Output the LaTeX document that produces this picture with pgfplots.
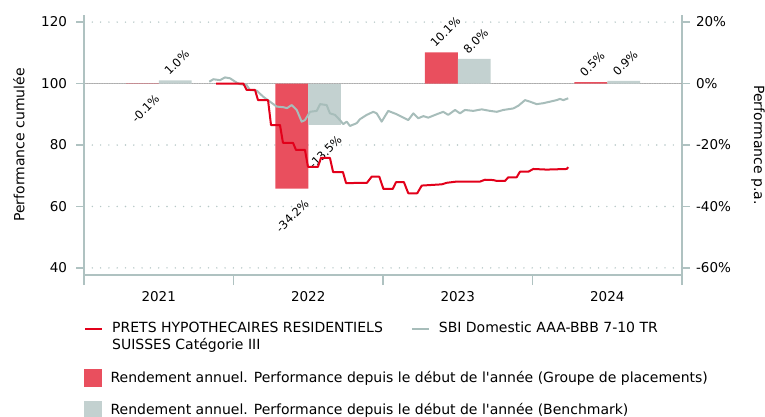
\documentclass[border=0pt]{standalone}
\usepackage{pgfplots}
\pgfplotsset{compat=1.18}
\usepackage{fontspec}
\setmainfont{DejaVu Sans}
\definecolor{redline}{HTML}{E2001A}
\definecolor{redbar}{HTML}{E94F5E}
\definecolor{graybar}{HTML}{C3D1D0}
\definecolor{grayline}{HTML}{A7BDBA}
\definecolor{axiscol}{HTML}{AFC2C1}
\definecolor{gridcol}{HTML}{B5C7C6}
\begin{document}
\begin{tikzpicture}
\path[use as bounding box] (0,0) rectangle (765pt,416pt);
% ---------- bars, right axis ----------
\begin{axis}[
  at={(84pt,141pt)}, anchor=south west,
  scale only axis, width=598pt, height=260pt,
  xmin=0, xmax=4, ymin=-62.3, ymax=22.3,
  axis x line=none, axis y line*=right,
  axis line style={draw=axiscol, line width=1.8pt, -},
  ytick={-60,-40,-20,20},
  yticklabel={\pgfmathprintnumber{\tick}\%},
  extra y ticks={0}, extra y tick labels={0\%},
  extra y tick style={grid style={draw=gray!65, line width=1pt, dash pattern=on 1.5pt off 1pt}},
  /pgf/number format/assume math mode=true,
  tick align=outside, major tick length=8pt,
  tick style={draw=axiscol, line width=1.8pt},
  ymajorgrids,
  grid style={draw=gridcol, line width=1.6pt, dash pattern=on 0pt off 8.3pt, line cap=round},
  tick label style={font=\fontsize{13.5}{16}\selectfont},
  yticklabel style={xshift=2.5pt},
  ylabel={Performance p.a.},
  every axis y label/.style={at={(axis description cs:1.127,0.5)}, rotate=-90, anchor=center, font=\fontsize{14}{17}\selectfont},
  legend style={at={(axis description cs:0,-0.3615)}, anchor=north west, draw=none, fill=none, inner sep=0pt,
    font=\fontsize{14}{17}\selectfont, row sep=14pt, nodes={inner sep=2pt},
    /tikz/every odd column/.append style={column sep=7pt}},
  legend cell align=left,
]
\addlegendimage{legend image code/.code={\fill[redbar] (0pt,-8.5pt) rectangle (17pt,8.5pt);}}
\addlegendentry{Rendement annuel. Performance depuis le début de l\textquotesingle année (Groupe de placements)}
\addlegendimage{legend image code/.code={\fill[graybar] (0pt,-8.5pt) rectangle (17pt,8.5pt);}}
\addlegendentry{Rendement annuel. Performance depuis le début de l\textquotesingle année (Benchmark)}
% positive bars
\addplot[ybar, bar width=0.22, bar shift=0pt, fill=redbar, draw=none, forget plot,
  nodes near coords={\pgfmathprintnumber[fixed,precision=1,fixed zerofill,assume math mode=true]{\pgfplotspointmeta}\%},
  every node near coord/.style={font=\fontsize{11.5}{13}\selectfont, text=black, inner sep=0pt, xshift=-6pt, yshift=4.5pt, rotate=45, anchor=base west}]
  coordinates {(2.39,10.1) (3.39,0.5)};
\addplot[ybar, bar width=0.22, bar shift=0pt, fill=graybar, draw=none, forget plot,
  nodes near coords={\pgfmathprintnumber[fixed,precision=1,fixed zerofill,assume math mode=true]{\pgfplotspointmeta}\%},
  every node near coord/.style={font=\fontsize{11.5}{13}\selectfont, text=black, inner sep=0pt, xshift=-6pt, yshift=4.5pt, rotate=45, anchor=base west}]
  coordinates {(0.61,1.0) (2.61,8.0) (3.61,0.9)};
% negative bars
\addplot[ybar, bar width=0.22, bar shift=0pt, fill=redbar, draw=none, forget plot,
  nodes near coords={\pgfmathprintnumber[fixed,precision=1,fixed zerofill,assume math mode=true]{\pgfplotspointmeta}\%},
  every node near coord/.style={font=\fontsize{11.5}{13}\selectfont, text=black, inner sep=0pt, xshift=18pt, yshift=-15.5pt, rotate=45, anchor=base east}]
  coordinates {(0.39,-0.1) (1.39,-34.2)};
\addplot[ybar, bar width=0.22, bar shift=0pt, fill=graybar, draw=none, forget plot,
  nodes near coords={\pgfmathprintnumber[fixed,precision=1,fixed zerofill,assume math mode=true]{\pgfplotspointmeta}\%},
  every node near coord/.style={font=\fontsize{11.5}{13}\selectfont, text=black, inner sep=0pt, xshift=18pt, yshift=-15.5pt, rotate=45, anchor=base east}]
  coordinates {(1.61,-13.5)};
\end{axis}
% ---------- lines, left axis ----------
\begin{axis}[
  at={(84pt,141pt)}, anchor=south west,
  scale only axis, width=598pt, height=260pt,
  xmin=0, xmax=4, ymin=37.7, ymax=122.3,
  axis x line*=bottom, axis y line*=left,
  axis line style={draw=axiscol, line width=1.8pt, -},
  xtick={0.5,1.5,2.5,3.5}, xticklabels={2021,2022,2023,2024},
  minor xtick={0,1,2,3,4},
  ytick={40,60,80,100,120},
  /pgf/number format/assume math mode=true,
  tick align=outside, major tick length=8pt, minor tick length=10pt,
  tick style={draw=axiscol, line width=1.8pt},
  major x tick style={draw=none},
  minor x tick style={draw=axiscol, line width=1.8pt},
  tick label style={font=\fontsize{13.5}{16}\selectfont},
  xticklabel style={yshift=-4.5pt},
  yticklabel style={xshift=-5.5pt},
  ylabel={Performance cumulée},
  every axis y label/.style={at={(axis description cs:-0.1087,0.5)}, rotate=90, anchor=center, font=\fontsize{14}{17}\selectfont},
  legend columns=2,
  legend cell align=left,
  legend style={at={(axis description cs:0,-0.173)}, anchor=north west, draw=none, fill=none, inner sep=0pt,
    font=\fontsize{14}{17}\selectfont, nodes={inner sep=2pt, align=left},
    /tikz/every odd column/.append style={column sep=7pt},
    /tikz/every even column/.append style={column sep=26pt}},
]
\addlegendimage{legend image code/.code={\draw[redline, line width=2pt] (0pt,7.5pt) -- (17pt,7.5pt);}}
\addlegendentry{PRETS HYPOTHECAIRES RESIDENTIELS\\SUISSES Catégorie III}
\addlegendimage{legend image code/.code={\draw[grayline, line width=2pt] (0pt,7.5pt) -- (17pt,7.5pt);}}
\addlegendentry{SBI Domestic AAA-BBB 7-10 TR\\\mbox{}}
\addplot[grayline, line width=2pt, line join=round, forget plot] coordinates {
(0.838,100.6) (0.865,101.4) (0.910,101.1) (0.943,102.0) (0.977,101.7) (1.021,100.3) (1.043,99.8)
(1.088,99.5) (1.110,97.9) (1.155,97.7) (1.199,95.7) (1.244,94.1) (1.289,92.5) (1.333,92.3)
(1.358,92.0) (1.389,93.0) (1.423,91.4) (1.456,87.6) (1.478,88.1) (1.512,90.8) (1.557,91.1)
(1.579,93.3) (1.623,93.0) (1.645,90.3) (1.679,89.8) (1.712,88.1) (1.734,86.8) (1.757,87.6)
(1.779,86.2) (1.824,87.1) (1.846,88.4) (1.891,89.8) (1.935,90.8) (1.958,90.3) (1.991,87.6)
(2.035,91.1) (2.092,90.0) (2.136,88.9) (2.169,88.1) (2.203,90.3) (2.236,88.7) (2.270,89.4)
(2.303,88.9) (2.359,90.0) (2.403,90.8) (2.436,89.8) (2.482,91.4) (2.515,90.3) (2.548,91.4)
(2.604,91.1) (2.660,91.6) (2.716,91.1) (2.761,90.8) (2.805,91.4) (2.872,91.9) (2.906,92.8)
(2.950,94.6) (2.983,94.1) (3.028,93.3) (3.072,93.6) (3.117,94.1) (3.161,94.6) (3.184,95.0)
(3.206,94.6) (3.239,95.2)};
\addplot[redline, line width=2pt, line join=round, forget plot] coordinates {
(0.883,100) (1.066,100) (1.088,97.9) (1.144,97.9) (1.164,94.6) (1.231,94.6) (1.251,86.5)
(1.311,86.5) (1.331,80.7) (1.398,80.7) (1.418,78.4) (1.478,78.4) (1.498,72.9) (1.565,72.9)
(1.585,75.8) (1.645,75.8) (1.666,71.2) (1.732,71.2) (1.753,67.6) (1.893,67.7) (1.924,69.7)
(1.975,69.7) (2.003,65.7) (2.065,65.7) (2.087,67.9) (2.140,67.9) (2.169,64.3) (2.229,64.3)
(2.259,66.8) (2.393,67.2) (2.426,67.7) (2.493,68.1) (2.649,68.1) (2.682,68.7) (2.736,68.6)
(2.761,68.3) (2.816,68.3) (2.838,69.5) (2.894,69.5) (2.916,71.3) (2.972,71.3) (3.005,72.2)
(3.095,72.0) (3.229,72.2) (3.239,72.8)};
\end{axis}
\end{tikzpicture}
\end{document}
